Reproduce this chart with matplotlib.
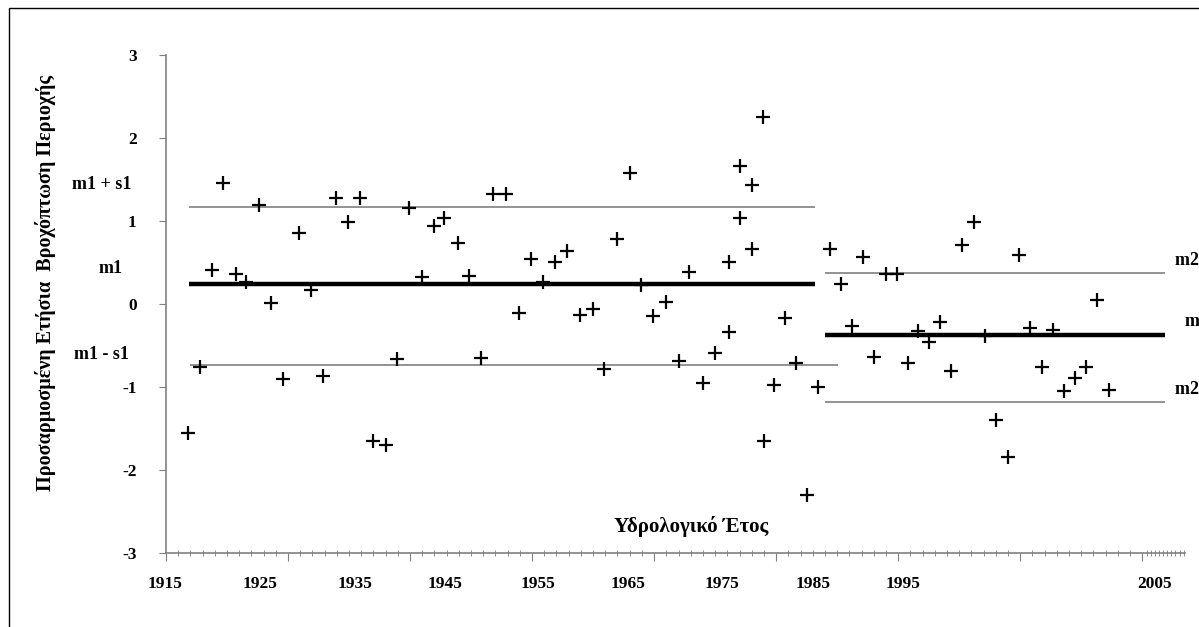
import matplotlib.pyplot as plt
import matplotlib.transforms as mtransforms
from matplotlib.patches import Rectangle
import numpy as np

plt.rcParams['font.family'] = ['Liberation Serif', 'DejaVu Serif']
plt.rcParams['font.weight'] = 'bold'

# period 1: hydrological year (as placed on the chart) and adjusted rainfall
years_1 = [1916.8, 1917.8, 1918.8, 1919.7, 1920.7, 1921.6, 1922.6, 1923.6, 1924.6,
           1925.9, 1926.9, 1927.9, 1928.9, 1929.9, 1930.9, 1932.0, 1933.0, 1933.9,
           1934.9, 1936.0, 1937.0, 1937.8, 1938.9, 1939.8, 1940.8, 1941.8, 1942.9,
           1943.9, 1944.9, 1945.9, 1946.9, 1947.9, 1948.9, 1950.0, 1950.9, 1952.0,
           1953.0, 1953.9, 1954.9, 1956.0, 1957.0, 1957.9, 1959.0, 1960.0, 1961.1,
           1961.1, 1962.0, 1962.0, 1963.0, 1963.0, 1963.9, 1964.0, 1964.8, 1965.7,
           1966.6, 1967.5, 1968.4]
rain_1 = [-1.55, -0.76, 0.41, 1.46, 0.36, 0.27, 1.19, 0.01, -0.90,
          0.86, 0.17, -0.87, 1.28, 0.99, 1.28, -1.65, -1.70, -0.66,
          1.16, 0.33, 0.94, 1.04, 0.73, 0.34, -0.65, 1.33, 1.33,
          -0.11, 0.54, 0.27, 0.51, 0.64, -0.13, -0.06, -0.78, 0.78,
          1.58, 0.23, -0.15, 0.03, -0.69, 0.39, -0.95, -0.59, -0.34,
          0.51, 1.04, 1.66, 1.43, 0.66, 2.25, -1.65, -0.97, -0.17,
          -0.71, -2.30, -1.00]

# period 2
years_2 = [1969.4, 1970.3, 1971.2, 1972.1, 1973.0, 1974.0, 1974.9, 1975.8, 1976.6,
           1977.5, 1978.4, 1979.3, 1980.2, 1981.2, 1982.1, 1983.0, 1984.0, 1984.9,
           1985.8, 1986.8, 1987.7, 1988.6, 1989.5, 1990.4, 1991.3, 1992.3]
rain_2 = [0.66, 0.24, -0.27, 0.57, -0.64, 0.36, 0.36, -0.71, -0.32,
          -0.46, -0.22, -0.81, 0.71, 0.99, -0.39, -1.40, -1.84, 0.59,
          -0.29, -0.76, -0.31, -1.05, -0.89, -0.76, 0.05, -1.04]

# mean and mean +/- std for each period
m1, m1_up, m1_dn = 0.24, 1.17, -0.73
m2, m2_up, m2_dn = -0.37, 0.37, -1.18
span_1 = (1916.9, 1968.2)
span_1_low = (1917.0, 1970.1)
span_2 = (1969.0, 1996.9)

year_labels = ['1915', '1925', '1935', '1945', '1955', '1965', '1975', '1985', '1995', '2005']
year_label_x = [1914.9, 1922.7, 1930.5, 1937.9, 1945.5, 1952.9, 1960.6, 1968.0, 1975.4, 1996.0]

grey = '#808080'

fig = plt.figure(figsize=(11.99, 6.27), dpi=100)
ax = fig.add_axes([0.1384, 0.118, 0.8499, 0.7943])

# statistics lines
ax.hlines([m1_up], *span_1, color=grey, lw=1.2)
ax.hlines([m1_dn], *span_1_low, color=grey, lw=1.2)
ax.hlines([m1], *span_1, color='black', lw=3.2)
ax.hlines([m2_up, m2_dn], *span_2, color=grey, lw=1.2)
ax.hlines([m2], *span_2, color='black', lw=3.2)

ax.plot(years_1, rain_1, '+', color='black', ms=10, mew=1.6)
ax.plot(years_2, rain_2, '+', color='black', ms=10, mew=1.6)

ax.set_xlim(1915, 1998.5)
ax.set_ylim(-3, 3)

for s in ['top', 'right']:
    ax.spines[s].set_visible(False)
for s in ['left', 'bottom']:
    ax.spines[s].set_color(grey)
    ax.spines[s].set_linewidth(1.2)

ax.set_yticks(range(-3, 4))
ax.set_yticklabels([str(v) for v in range(-3, 4)], fontsize=12.5, fontweight='bold')
ax.tick_params(axis='y', direction='out', length=5, color=grey, pad=16)

ax.set_xticks(np.arange(1915, 1996, 10))
ax.set_xticklabels([])
minor = list(np.arange(1916, 1995, 1)) + list(np.linspace(1995.35, 1998.4, 10))
ax.set_xticks(minor, minor=True)
ax.tick_params(axis='x', which='major', direction='out', length=6, color=grey)
ax.tick_params(axis='x', which='minor', direction='inout', length=4, color=grey)

trans = mtransforms.blended_transform_factory(ax.transData, ax.transAxes)
for lab, xp in zip(year_labels, year_label_x):
    ax.text(xp, -0.062, lab, transform=trans, ha='center', va='center',
            fontsize=12.5, fontweight='bold')

ax.text(1958.0, 0.053, 'Υδρολογικό Έτος', transform=trans, ha='center', va='center',
        fontsize=15, fontweight='bold')

fig.text(0.038, 0.548, 'Προσαρμοσμένη Ετήσια  Βροχόπτωση Περιοχής', rotation=90,
         ha='center', va='center', fontsize=14.5, fontweight='bold')

# labels of the statistics lines
fig.text(0.085, 0.705, 'm1 + s1', ha='center', va='center', fontsize=13, fontweight='bold')
fig.text(0.092, 0.572, 'm1', ha='center', va='center', fontsize=13, fontweight='bold')
fig.text(0.085, 0.434, 'm1 - s1', ha='center', va='center', fontsize=13, fontweight='bold')
fig.text(0.980, 0.585, 'm2 +', ha='left', va='center', fontsize=13, fontweight='bold')
fig.text(0.988, 0.487, 'm2', ha='left', va='center', fontsize=13, fontweight='bold')
fig.text(0.980, 0.378, 'm2 -', ha='left', va='center', fontsize=13, fontweight='bold')

# outer frame of the chart area
fig.patches.append(Rectangle((9 / 1199, -0.1), 1.2, 0.987 + 0.1,
                             transform=fig.transFigure, fill=False,
                             edgecolor='black', lw=1))

fig.savefig('out.png', dpi=100)
